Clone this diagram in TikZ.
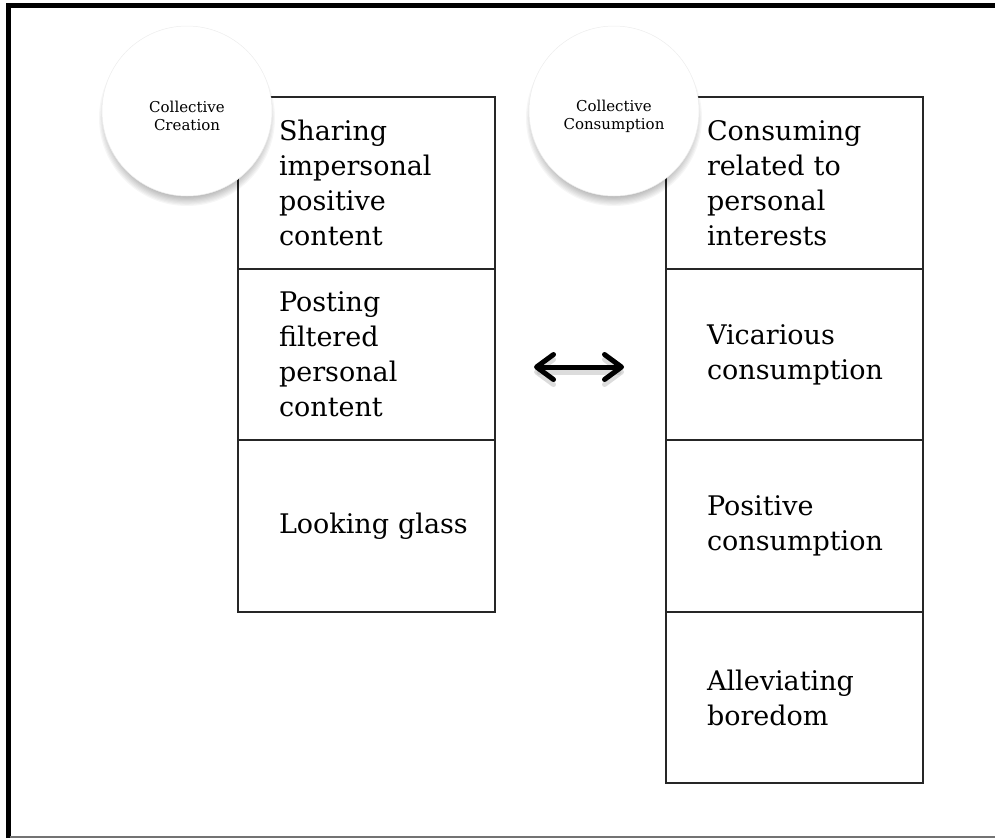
\documentclass[tikz,border=0pt]{standalone}
\usepackage{fontspec}
\setmainfont{DejaVu Serif}
\usetikzlibrary{arrows.meta}
\tikzset{
  cellbox/.style={draw=black!85, line width=1.8pt, minimum width=257pt,
    minimum height=171.5pt, text width=175pt, inner xsep=41pt, inner ysep=0pt,
    align=left, font=\fontsize{27}{35}\selectfont, anchor=center},
  bubble/.style={circle, fill=white, draw=black!7, line width=0.5pt,
    minimum size=170pt, inner sep=0pt},
  bubbletext/.style={align=center, font=\fontsize{15}{18}\selectfont, inner sep=0pt},
  link/.style={line width=5pt, line cap=round,
    {Straight Barb[length=17pt,width=25pt,round]}-{Straight Barb[length=17pt,width=25pt,round]}}
}
\begin{document}
\begin{tikzpicture}[x=1pt,y=-1pt]
\useasboundingbox (0,0) rectangle (995,838);
% page frame
\draw[line width=5pt, black] (8,838) -- (8,5) -- (995,5);
\draw[line width=1.2pt, black!55] (10,837) -- (995,837);

% left column
\node[cellbox] (l1) at (366.5,183) {Sharing\\impersonal\\positive\\content};
\node[cellbox] (l2) at (366.5,354.5) {Posting\\filtered\\personal\\content};
\node[cellbox] (l3) at (366.5,526) {\mbox{Looking glass}};

% right column
\node[cellbox] (r1) at (794.5,183) {Consuming\\related to\\personal\\interests};
\node[cellbox] (r2) at (794.5,354.5) {Vicarious\\consumption};
\node[cellbox] (r3) at (794.5,526) {Positive\\consumption};
\node[cellbox] (r4) at (794.5,697.5) {Alleviating\\boredom};

% soft shadows under the circles
\coordinate (lc) at (187,111);
\coordinate (rc) at (614,111);
\foreach \c in {lc,rc}{
  \foreach \k in {0,...,11}{
    \fill[black, opacity=0.035] ([yshift=-7pt]\c) circle ({88pt-\k*1.2pt});
  }
}
\node[bubble] (lcirc) at (lc) {};
\node[bubble] (rcirc) at (rc) {};
\node[bubbletext] (ltxt) at ([yshift=-5pt]lc) {Collective\\Creation};
\node[bubbletext] (rtxt) at ([yshift=-5pt]rc) {Collective\\Consumption};

% double arrow between the columns
\coordinate (aL) at (534,367);
\coordinate (aR) at (624,367);
\draw[link, black!30, opacity=0.45] ([yshift=-5pt]aL) -- ([yshift=-5pt]aR);
\draw[link] (aL) -- (aR);
\end{tikzpicture}
\end{document}
